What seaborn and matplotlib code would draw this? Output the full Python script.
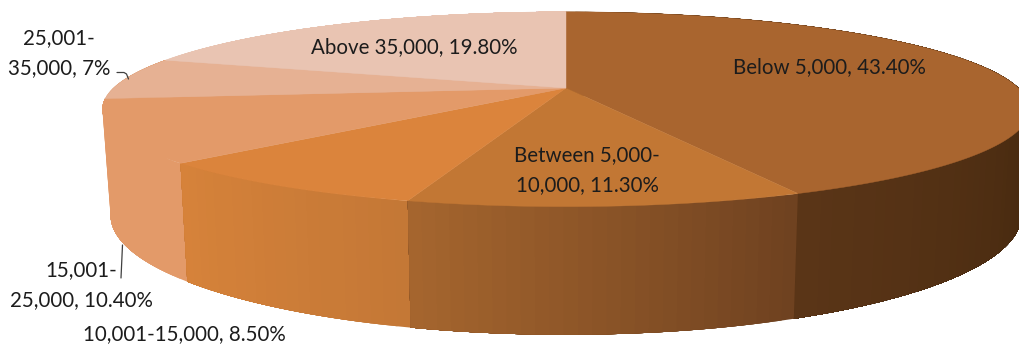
import numpy as np
import matplotlib
matplotlib.use("Agg")
import matplotlib.pyplot as plt
import seaborn as sns

categories = ["Below 5,000", "Between 5,000-\n10,000", "10,001-15,000",
              "15,001-\n25,000", "25,001-\n35,000", "Above 35,000"]
values = [43.4, 11.3, 8.5, 10.4, 7.0, 19.8]
value_labels = ["43.40%", "11.30%", "8.50%", "10.40%", "7%", "19.80%"]

top_colors = ["#A9652F", "#C27734", "#DB843C", "#E39A69", "#E6B193", "#E9C4B2"]
side_start = ["#46290F", "#6F4220", "#C47836", "#E39A69", "#E39A69", "#E9C4B2"]
side_end = ["#5A3517", "#A5652E", "#D6823A", "#E39A69", "#E39A69", "#E9C4B2"]
label_xy = [(829, 67), (587, 170), (184, 334), (81, 285), (59, 53), (414, 47)]

sns.set_theme(style="white")
plt.rcParams["font.family"] = ["Lato", "DejaVu Sans"]

fig = plt.figure(figsize=(10.19, 3.47), dpi=100)
ax = fig.add_axes([0, 0, 1, 1])
ax.set_xlim(0, 1019)
ax.set_ylim(347, 0)
ax.axis("off")

# projection of the pie's disc
CX, K = 566, 0.2126


def project(theta, radius, cy, depth):
    u, v = np.sin(theta), -np.cos(theta)
    w = 1 - K * v
    return CX + radius * u / w, cy + depth * v / w


def top_arc(theta):
    return project(theta, 453, 88.5, 93)


def bottom_arc(theta):
    return project(theta, 445, 190, 114)


shares = np.array(values) / np.sum(values)
edges = np.concatenate([[0], np.cumsum(shares)]) * 2 * np.pi

# side walls, back slices first; each band runs on to the slice's end so no seams show
for i in [5, 4, 0, 3, 2, 1]:
    n = max(int((edges[i + 1] - edges[i]) / 0.025), 2)
    th = np.linspace(edges[i], edges[i + 1], n + 1)
    stops = [side_start[i], side_end[i]]
    if i == 0:
        stops = [side_start[0], side_start[0], side_start[0], side_end[0]]
    pal = sns.blend_palette(stops, n)
    for j in range(n):
        a = th[j:]
        x1, y1 = top_arc(a)
        x2, y2 = bottom_arc(a[::-1])
        ax.fill(np.r_[x1, x2], np.r_[y1, y2], color=pal[j], lw=0)

# top faces
for i in range(6):
    th = np.linspace(edges[i], edges[i + 1], 200)
    x, y = top_arc(th)
    ax.fill(np.r_[CX, x], np.r_[88, y], color=top_colors[i], lw=0.3, ec=top_colors[i])

# labels
for cat, val, (lx, ly) in zip(categories, value_labels, label_xy):
    ax.text(lx, ly, f"{cat}, {val}", ha="center", va="center", fontsize=14.8,
            color="#1c1c1c", linespacing=1.6)

# leader lines
ax.plot([117, 124, 126.5, 128.5], [72.5, 72.5, 74, 79], color="#404040", lw=0.9)
ax.plot([122.5, 121], [245, 278], color="#404040", lw=0.9)

fig.savefig("out.png", dpi=100)
